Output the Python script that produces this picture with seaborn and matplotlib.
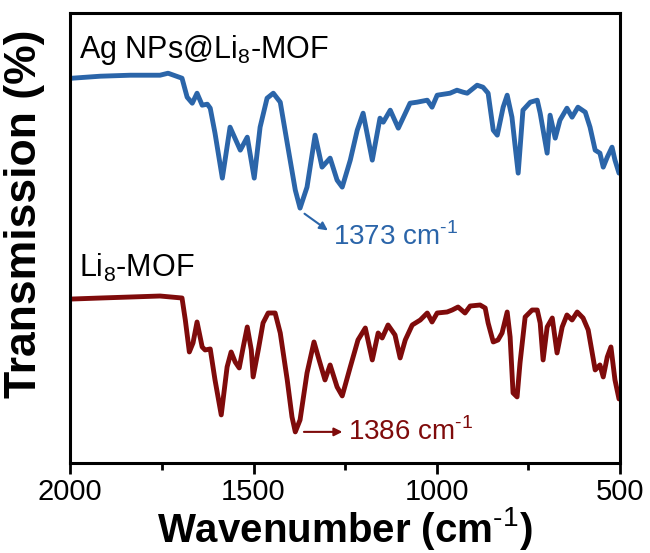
import numpy as np
import pandas as pd
import seaborn as sns
import matplotlib.pyplot as plt
from matplotlib.ticker import MultipleLocator

# FTIR spectra (transmission in arbitrary units, offset)
ag_wn = [1995, 1918, 1836, 1755, 1733, 1695, 1681, 1667, 1654, 1640, 1626, 1618, 1605, 1585,
         1564, 1536, 1517, 1498, 1482, 1463, 1446, 1427, 1408, 1386, 1373, 1354, 1332, 1313,
         1291, 1272, 1258, 1236, 1217, 1201, 1176, 1155, 1146, 1127, 1105, 1073, 1054, 1026,
         1013, 999, 964, 945, 928, 917, 890, 874, 860, 846, 835, 819, 808, 795, 786, 778,
         765, 745, 726, 718, 699, 691, 677, 664, 645, 631, 615, 595, 582, 568, 555, 546,
         535, 522, 514, 503]
ag_t = [385, 387, 388, 388, 390, 385, 366, 360, 370, 358, 359, 355, 330, 285,
        336, 313, 326, 285, 336, 365, 370, 361, 320, 273, 255, 276, 328, 296,
        305, 283, 276, 303, 333, 350, 303, 345, 341, 353, 335, 360, 361, 363,
        356, 368, 370, 373, 371, 370, 378, 376, 370, 333, 328, 356, 368, 346, 316, 290,
        353, 361, 363, 350, 310, 348, 325, 343, 355, 346, 356, 351, 336, 313, 310, 296,
        306, 316, 303, 290]

li_wn = [1995, 1918, 1836, 1755, 1695, 1686, 1675, 1665, 1654, 1640, 1632, 1618, 1605, 1588,
         1572, 1561, 1550, 1539, 1528, 1517, 1506, 1501, 1487, 1474, 1460, 1441, 1427, 1408,
         1395, 1386, 1373, 1354, 1335, 1321, 1305, 1291, 1272, 1258, 1236, 1215, 1195, 1176,
         1160, 1149, 1133, 1114, 1100, 1086, 1067, 1045, 1026, 1013, 999, 972, 958, 942,
         923, 909, 882, 868, 860, 846, 833, 822, 808, 800, 792, 781, 773, 759, 740, 726,
         718, 710, 699, 685, 672, 658, 645, 631, 617, 601, 587, 568, 555, 546, 535, 525,
         514, 503]
li_t = [164, 165, 166, 167, 165, 143, 111, 120, 141, 116, 113, 114, 83, 48,
        96, 111, 101, 95, 116, 136, 113, 86, 113, 140, 150, 150, 130, 83,
        46, 31, 43, 90, 121, 103, 83, 98, 76, 67, 96, 123, 135, 103,
        130, 125, 138, 128, 105, 123, 138, 143, 150, 141, 150, 151, 153, 156,
        150, 157, 158, 155, 140, 121, 123, 130, 151, 126, 70, 66, 100, 146, 153, 153,
        140, 103, 136, 145, 110, 136, 148, 143, 151, 145, 133, 93, 98, 86, 106, 116,
        83, 64]

blue = '#2b65a9'
red = '#7f0b0b'

sns.set_style('white')
plt.rcParams['font.family'] = ['Liberation Sans', 'DejaVu Sans']
plt.rcParams['mathtext.fontset'] = 'custom'
plt.rcParams['mathtext.rm'] = 'Liberation Sans'
plt.rcParams['mathtext.bf'] = 'Liberation Sans:bold'
plt.rcParams['text.color'] = 'black'
plt.rcParams['axes.labelcolor'] = 'black'
plt.rcParams['xtick.color'] = 'black'

fig, ax = plt.subplots(figsize=(6.5, 5.53), dpi=100)
fig.subplots_adjust(left=0.108, right=0.954, bottom=0.163, top=0.976)

df_ag = pd.DataFrame({'wn': ag_wn, 't': ag_t})
df_li = pd.DataFrame({'wn': li_wn, 't': li_t})
sns.lineplot(data=df_ag, x='wn', y='t', color=blue, lw=3.5, estimator=None, ax=ax)
sns.lineplot(data=df_li, x='wn', y='t', color=red, lw=3.5, estimator=None, ax=ax)

ax.set_xlim(2000, 500)
ax.set_ylim(0, 450)
ax.set_yticks([])
ax.xaxis.set_major_locator(MultipleLocator(500))
ax.xaxis.set_minor_locator(MultipleLocator(250))
ax.tick_params(axis='x', which='major', direction='out', length=8, width=2,
               labelsize=21, bottom=True, pad=3)
ax.tick_params(axis='x', which='minor', direction='out', length=5, width=2, bottom=True)
for s in ax.spines.values():
    s.set_linewidth(2.2)
    s.set_color('black')

ax.set_xlabel(r'Wavenumber (cm$^{\text{-}1}$)', fontsize=29, fontweight='bold', labelpad=-1)
ax.set_ylabel('Transmission (%)', fontsize=32, fontweight='bold')
ax.yaxis.set_label_coords(-0.046, 0.555)

ax.text(1975, 405, 'Ag NPs@Li$_8$-MOF', fontsize=22, va='baseline', ha='left')
ax.text(1975, 186, 'Li$_8$-MOF', fontsize=22, va='baseline', ha='left')

ax.annotate('', xy=(1291, 231), xytext=(1367, 251),
            arrowprops=dict(arrowstyle='-|>', color=blue, lw=1.5, mutation_scale=12))
ax.text(1282, 226, r'1373 cm$^{\text{-}1}$', fontsize=20, color=blue, va='center', ha='left')
ax.annotate('', xy=(1250, 31), xytext=(1370, 31),
            arrowprops=dict(arrowstyle='-|>', color=red, lw=1.5, mutation_scale=12))
ax.text(1243, 31, r'1386 cm$^{\text{-}1}$', fontsize=20, color=red, va='center', ha='left')

fig.savefig('out.png', dpi=100)
